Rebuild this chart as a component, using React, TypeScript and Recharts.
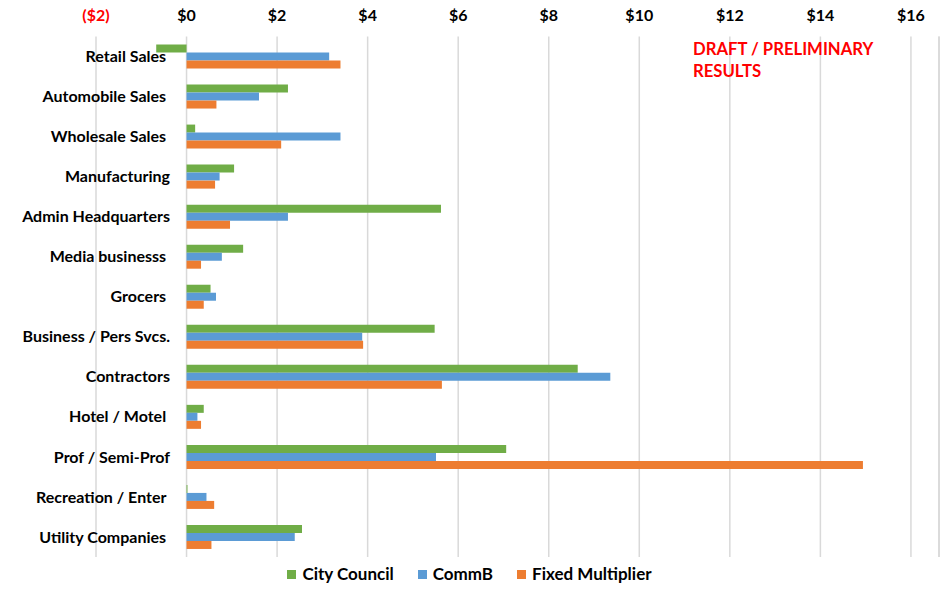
import React from 'react';
import { BarChart, Bar, XAxis, YAxis, CartesianGrid, Legend, ReferenceLine } from 'recharts';

const categories = [
  'Retail Sales ',
  'Automobile Sales ',
  'Wholesale Sales ',
  'Manufacturing',
  'Admin Headquarters',
  'Media businesss ',
  'Grocers ',
  'Business / Pers Svcs.',
  'Contractors',
  'Hotel / Motel ',
  'Prof / Semi-Prof',
  'Recreation / Enter ',
  'Utility Companies ',
];

const cityCouncil = [-0.67, 2.24, 0.19, 1.05, 5.62, 1.25, 0.53, 5.48, 8.64, 0.38, 7.06, 0.02, 2.55];
const commB = [3.15, 1.6, 3.4, 0.73, 2.24, 0.78, 0.65, 3.88, 9.36, 0.24, 5.51, 0.44, 2.39];
const fixedMultiplier = [3.4, 0.66, 2.09, 0.63, 0.96, 0.32, 0.38, 3.9, 5.64, 0.32, 14.94, 0.61, 0.55];

const xTicks = [-2, 0, 2, 4, 6, 8, 10, 12, 14, 16];
const xMax = 16.62;

const seriesColors = { cityCouncil: '#70AD47', commB: '#5B9BD5', fixed: '#ED7D31' };

const data = categories.map((name, i) => ({
  name,
  cityCouncil: cityCouncil[i],
  commB: commB[i],
  fixed: fixedMultiplier[i],
}));

const formatMoney = (v: number) => (v < 0 ? `($${Math.abs(v)})` : `$${v}`);

const XTick = (props: any) => {
  const { x, y, payload } = props;
  return (
    <text
      x={x}
      y={y - 16}
      textAnchor="middle"
      fontSize={16}
      fontWeight={700}
      fill={payload.value < 0 ? '#FF0000' : '#000000'}
    >
      {formatMoney(payload.value)}
    </text>
  );
};

const YTick = (props: any) => {
  const { x, y, payload } = props;
  return (
    <text
      x={x + 74}
      y={y}
      dy="0.35em"
      textAnchor="end"
      fontSize={16}
      fontWeight={700}
      fill="#000000"
      style={{ whiteSpace: 'pre' }}
    >
      {payload.value}
    </text>
  );
};

const LegendContent = (props: any) => {
  const items = props.payload || [];
  return (
    <div
      style={{
        display: 'flex',
        justifyContent: 'center',
        gap: 24,
        paddingTop: 6,
        height: 22,
        lineHeight: '20px',
        fontSize: 17,
        fontWeight: 700,
        color: '#000',
      }}
    >
      {items.map((item: any) => (
        <div key={item.value} style={{ display: 'flex', alignItems: 'center' }}>
          <span style={{ width: 9, height: 9, background: item.color, marginRight: 6, display: 'inline-block' }} />
          <span>{item.value}</span>
        </div>
      ))}
    </div>
  );
};

export default function App() {
  return (
    <div
      style={{
        position: 'absolute',
        left: 0,
        top: 0,
        width: 949,
        height: 589,
        background: '#fff',
        fontFamily: 'Lato, "Open Sans", sans-serif',
      }}
    >
      <BarChart
        layout="vertical"
        width={949}
        height={589}
        data={data}
        margin={{ top: 0, right: 10, bottom: 4, left: 0 }}
        barSize={8}
        barGap={0}
      >
        <CartesianGrid horizontal={false} stroke="#D9D9D9" strokeWidth={1.5} />
        <ReferenceLine x={xMax} stroke="#D9D9D9" strokeWidth={1.5} />
        <XAxis
          type="number"
          orientation="top"
          domain={[-2, xMax]}
          ticks={xTicks}
          allowDataOverflow
          axisLine={false}
          tickLine={false}
          tickSize={0}
          tickMargin={0}
          height={36.5}
          tick={<XTick />}
        />
        <YAxis
          type="category"
          dataKey="name"
          width={96}
          axisLine={false}
          tickLine={false}
          tickSize={0}
          tickMargin={0}
          interval={0}
          tick={<YTick />}
        />
        <Legend verticalAlign="bottom" content={<LegendContent />} />
        <Bar dataKey="cityCouncil" name="City Council" fill={seriesColors.cityCouncil} isAnimationActive={false} />
        <Bar dataKey="commB" name="CommB" fill={seriesColors.commB} isAnimationActive={false} />
        <Bar dataKey="fixed" name="Fixed Multiplier" fill={seriesColors.fixed} isAnimationActive={false} />
      </BarChart>
      <div
        style={{
          position: 'absolute',
          left: 693,
          top: 38,
          color: '#FF0000',
          fontSize: 16.7,
          fontWeight: 700,
          lineHeight: '22px',
        }}
      >
        DRAFT / PRELIMINARY
        <br />
        RESULTS
      </div>
    </div>
  );
}
